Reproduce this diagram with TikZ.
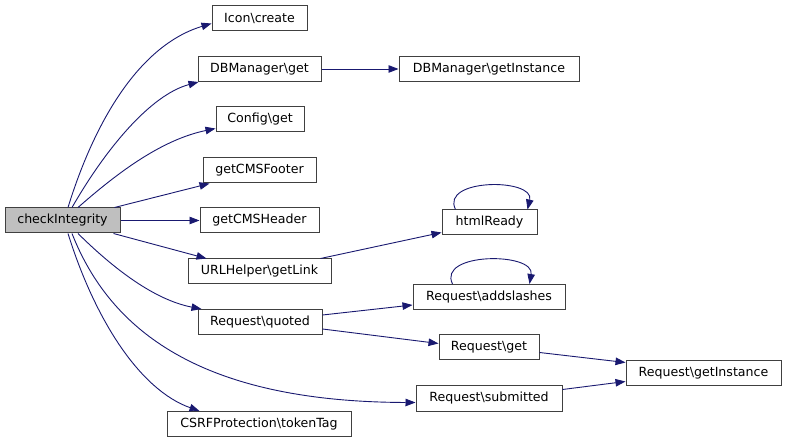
\documentclass[tikz,border=0pt]{standalone}
\usepackage{fontspec}
\setmainfont{DejaVu Sans}
\usetikzlibrary{arrows.meta}
\definecolor{edgeblue}{HTML}{191970}
\definecolor{boxgray}{HTML}{404040}
\definecolor{curfill}{HTML}{BFBFBF}
\begin{document}
\begin{tikzpicture}[
    x=1pt, y=-1pt,
    fn/.style={rectangle, draw=boxgray, line width=1pt, fill=white, inner sep=0pt,
               minimum height=25pt, font=\fontsize{12.6}{14}\selectfont},
    call/.style={draw=edgeblue, line width=0.9pt, -{Triangle[length=10pt,width=7.5pt]}, edgeblue}
]
\useasboundingbox (0,0) rectangle (787,443);
% Knoten
\node[fn, fill=curfill, minimum width=115pt] (ci) at (62.5,220.5) {checkIntegrity};
\node[fn, minimum width=95pt]  (icon)   at (259.5,18.5)  {Icon\textbackslash create};
\node[fn, minimum width=123pt] (dbget)  at (259.5,69)    {DBManager\textbackslash get};
\node[fn, minimum width=180pt] (dbinst) at (489,69)      {DBManager\textbackslash getInstance};
\node[fn, minimum width=88pt]  (cfg)    at (260,119.5)   {Config\textbackslash get};
\node[fn, minimum width=113pt] (foot)   at (259.5,170.5) {getCMSFooter};
\node[fn, minimum width=119pt] (head)   at (259.5,220.5) {getCMSHeader};
\node[fn, minimum width=143pt] (link)   at (259.5,271.5) {URLHelper\textbackslash getLink};
\node[fn, minimum width=124pt] (quoted) at (260,322)     {Request\textbackslash quoted};
\node[fn, minimum width=184pt] (csrf)   at (259,424)     {CSRFProtection\textbackslash tokenTag};
\node[fn, minimum width=95pt]  (html)   at (489.5,222.5) {htmlReady};
\node[fn, minimum width=152pt] (slash)  at (489,297)     {Request\textbackslash addslashes};
\node[fn, minimum width=100pt] (rget)   at (489,347.5)   {Request\textbackslash get};
\node[fn, minimum width=146pt] (sub)    at (489,398.5)   {Request\textbackslash submitted};
\node[fn, minimum width=155pt] (rinst)  at (703.5,373.5) {Request\textbackslash getInstance};

% Aufrufe von checkIntegrity
\draw[call] ([xshift=5.5pt]ci.north) .. controls (95,120) and (140,45) .. ([yshift=-5pt]icon.west);
\draw[call] ([xshift=9.5pt]ci.north) .. controls (105,150) and (150,95) .. ([xshift=1pt]dbget.south west);
\draw[call] ([xshift=15.5pt]ci.north) .. controls (115,175) and (160,140) .. ([yshift=-9pt]cfg.west);
\draw[call] ([xshift=52pt]ci.north) -- ([xshift=7pt]foot.south west);
\draw[call] (ci.east) -- (head.west);
\draw[call] ([xshift=51pt]ci.south) -- ([xshift=19pt]link.north west);
\draw[call] ([xshift=15.5pt]ci.south) .. controls (115,270) and (155,300) .. ([xshift=4pt]quoted.north west);
\draw[call] ([xshift=9.5pt]ci.south) .. controls (110,330) and (200,402) .. ([yshift=-4pt]sub.west);
\draw[call] ([xshift=5.5pt]ci.south) .. controls (95,320) and (140,390) .. ([xshift=33pt]csrf.north west);

% weitere Aufrufe
\draw[call] (dbget.east) -- (dbinst.west);
\draw[call] ([xshift=-11pt]link.north east) -- ([yshift=3pt]html.south west);
\draw[call] ([yshift=7pt]quoted.east) -- ([yshift=-8pt]slash.west);
\draw[call] ([yshift=-7pt]quoted.east) -- ([yshift=4pt]rget.west);
\draw[call] ([yshift=-5pt]rget.east) -- ([yshift=-2pt]rinst.north west);
\draw[call] ([yshift=9pt]sub.east) -- ([yshift=-8pt]rinst.west);

% Selbstaufrufe
\draw[call] ([xshift=14pt]html.north west) .. controls (440,178) and (535,178) .. ([xshift=-10pt]html.north east);
\draw[call] ([xshift=40pt]slash.north west) .. controls (437,252) and (535,252) .. ([xshift=-36pt]slash.north east);
\end{tikzpicture}
\end{document}
